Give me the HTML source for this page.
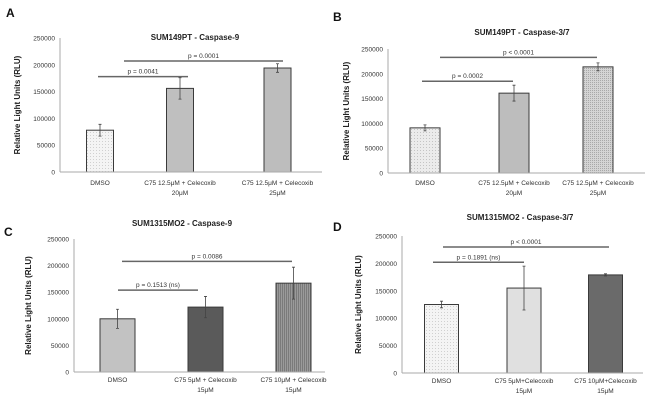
<!DOCTYPE html>
<html><head><meta charset="utf-8"><style>
html,body{margin:0;padding:0;background:#fff;}
svg{display:block;font-family:"Liberation Sans",Arial,sans-serif;}
</style></head><body>
<svg id="fig" width="650" height="403" viewBox="0 0 650 403">
<defs>
<pattern id="dots" width="3" height="3" patternUnits="userSpaceOnUse"><rect width="3" height="3" fill="#f4f4f4"/><rect width="1" height="1" fill="#d0d0d0"/></pattern>
<pattern id="dots2" width="2" height="2" patternUnits="userSpaceOnUse"><rect width="2" height="2" fill="#d4d4d4"/><rect width="1" height="1" fill="#a8a8a8"/></pattern>
<pattern id="vstripe" width="2" height="2" patternUnits="userSpaceOnUse"><rect width="2" height="2" fill="#9a9a9a"/><rect width="1" height="2" fill="#7a7a7a"/></pattern>
<pattern id="dots3" width="3" height="3" patternUnits="userSpaceOnUse"><rect width="3" height="3" fill="#ececec"/><rect width="1" height="1" fill="#c4c4c4"/></pattern>
</defs>
</svg>
<script>
// Panel A
const aCategories = [["DMSO"],["C75 12.5\u03bcM + Celecoxib","20\u03bcM"],["C75 12.5\u03bcM + Celecoxib","25\u03bcM"]];
const aValues = [78000, 156000, 194000];
const aErrors = [11000, 20000, 8000];
const aPLabels = ["p = 0.0041","p = 0.0001"];
const aPLevels = [178000, 207000];
// Panel B
const bCategories = [["DMSO"],["C75 12.5\u03bcM + Celecoxib","20\u03bcM"],["C75 12.5\u03bcM + Celecoxib","25\u03bcM"]];
const bValues = [91000, 161000, 214000];
const bErrors = [6000, 16000, 8000];
const bPLabels = ["p = 0.0002","p < 0.0001"];
const bPLevels = [185000, 233000];
// Panel C
const cCategories = [["DMSO"],["C75 5\u03bcM + Celecoxib","15\u03bcM"],["C75 10\u03bcM + Celecoxib","15\u03bcM"]];
const cValues = [100000, 122000, 167000];
const cErrors = [18000, 20000, 30000];
const cPLabels = ["p = 0.1513 (ns)","p = 0.0086"];
const cPLevels = [154000, 208000];
// Panel D
const dCategories = [["DMSO"],["C75 5\u03bcM+Celecoxib","15\u03bcM"],["C75 10\u03bcM+Celecoxib","15\u03bcM"]];
const dValues = [125000, 155000, 179000];
const dErrors = [6000, 40000, 2000];
const dPLabels = ["p = 0.1891 (ns)","p < 0.0001"];
const dPLevels = [202000, 230000];
const yTicks = [0, 50000, 100000, 150000, 200000, 250000];

const NS = "http://www.w3.org/2000/svg";
const svg = document.getElementById('fig');
function mk(tag, attrs, parent, txt){
  const e = document.createElementNS(NS, tag);
  for (const k in attrs) e.setAttribute(k, attrs[k]);
  if (txt !== undefined) e.textContent = txt;
  (parent||svg).appendChild(e);
  return e;
}
function panel(id, letter, lx, ly, title, tx, ty, ax, axEnd, y0, y250, centers, bw, cats, vals, errs, fills, pl, plv, pspans, ytx, cy){
  const g = mk('g', {});
  
  
  const y = v => y0 - (v/250000)*(y0 - y250);
  const L = mk('text', {x:lx, y:ly, 'font-size':12, 'font-weight':'bold', fill:'#111'}, g, letter);
  
  
  const T = mk('text', {x:tx, y:ty, 'font-size':8, 'font-weight':'bold', 'text-anchor':'middle', fill:'#222'}, g, title);
  
  
  const yc = (y0 + y250)/2;
  const YT = mk('text', {x:ytx, y:yc, 'font-size':8, 'font-weight':'bold', 'text-anchor':'middle', fill:'#222', transform:'rotate(-90 '+ytx+' '+yc+')'}, g, 'Relative Light Units (RLU)');
  
  
  const ya = mk('line', {x1:ax, y1:y250, x2:ax, y2:y0, stroke:'#aaa', 'stroke-width':1}, g);
  
  
  yTicks.forEach(t => {
    const tl = mk('text', {x:ax-5, y:y(t)+2.5, 'font-size':6.5, 'text-anchor':'end', fill:'#333'}, g, String(t));
    
    
  });
  vals.forEach((v, i) => {
    const cx = centers[i];
    const r = mk('rect', {x:cx-bw/2, y:y(v), width:bw, height:y0-y(v), fill:fills[i], stroke:'#3a3a3a', 'stroke-width':1}, g);
    
    
    const eb = mk('path', {d:'M'+cx+' '+y(v+errs[i])+'V'+y(v-errs[i])+'M'+(cx-1.5)+' '+y(v+errs[i])+'h3M'+(cx-1.5)+' '+y(v-errs[i])+'h3', stroke:'#444', 'stroke-width':0.8, fill:'none'}, g);
    
    
    cats[i].forEach((ln, j) => {
      const ct = mk('text', {x:cx, y:cy + j*10, 'font-size':6.5, 'text-anchor':'middle', fill:'#333'}, g, ln);
      
      
    });
  });
  const xa = mk('line', {x1:ax, y1:y0, x2:axEnd, y2:y0, stroke:'#aaa', 'stroke-width':1}, g);
  
  
  pl.forEach((p, i) => {
    const yy = y(plv[i]);
    const s = pspans[i];
    const ln = mk('line', {x1:s[0], y1:yy, x2:s[1], y2:yy, stroke:'#666', 'stroke-width':1.5}, g);
    
    
    const pt = mk('text', {x:(s[0]+s[1])/2, y:yy-3, 'font-size':6.5, 'text-anchor':'middle', fill:'#333'}, g, p);
    
    
  });
}
panel('a','A',6,17,'SUM149PT - Caspase-9',195,40,60,322,172,38,[100,180,277.5],27,aCategories,aValues,aErrors,['url(#dots)','#bfbfbf','#bdbdbd'],aPLabels,aPLevels,[[98,188],[124,283]],20,185);
panel('b','B',333,21,'SUM149PT - Caspase-3/7',522,35,388,645,173,49,[425,514,598],30,bCategories,bValues,bErrors,['url(#dots3)','#bdbdbd','url(#dots2)'],bPLabels,bPLevels,[[422,513],[440,597]],349,185);
panel('c','C',4,236,'SUM1315MO2 - Caspase-9',182,226,74,325,372,239,[117.5,205.5,293.5],35,cCategories,cValues,cErrors,['#c2c2c2','#5a5a5a','url(#vstripe)'],cPLabels,cPLevels,[[118,198],[122,292]],31,382);
panel('d','D',333,231,'SUM1315MO2 - Caspase-3/7',520,220,402,643,373,236,[441.5,524,605.5],34,dCategories,dValues,dErrors,['url(#dots)','#e0e0e0','#6a6a6a'],dPLabels,dPLevels,[[433,524],[443,609]],361,383);
</script>
</body></html>
